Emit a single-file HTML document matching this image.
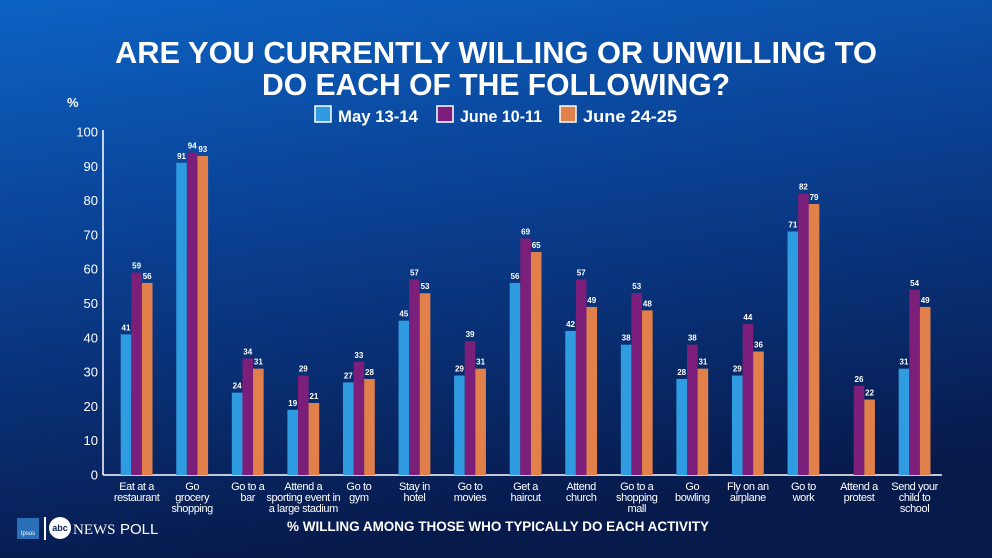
<!DOCTYPE html>
<html><head><meta charset="utf-8"><style>
html,body{margin:0;padding:0;width:992px;height:558px;overflow:hidden}
svg{display:block;font-family:"Liberation Sans",Arial,sans-serif}
</style></head><body>
<svg id="chart" width="992" height="558" viewBox="0 0 992 558" xmlns="http://www.w3.org/2000/svg">
<defs>
<linearGradient id="bg" x1="0" y1="0" x2="0.25" y2="1">
<stop offset="0" stop-color="#0c63c4"/><stop offset="0.45" stop-color="#0a3f91"/><stop offset="1" stop-color="#071a4c"/>
</linearGradient>
</defs>
<rect width="992" height="558" fill="url(#bg)"/>
<g fill="#fff" font-weight="bold" font-size="31" text-anchor="middle">
<text x="496" y="63" textLength="762" lengthAdjust="spacingAndGlyphs">ARE YOU CURRENTLY WILLING OR UNWILLING TO</text>
<text x="496" y="95" textLength="468" lengthAdjust="spacingAndGlyphs">DO EACH OF THE FOLLOWING?</text>
</g>
<g font-weight="bold" font-size="17" fill="#fff">
<g><rect x="315" y="106" width="16" height="16" fill="#2f9be0" stroke="#fff" stroke-width="1.5"/><text x="338" y="122" textLength="80" lengthAdjust="spacingAndGlyphs">May 13-14</text></g>
<g><rect x="437" y="106" width="16" height="16" fill="#7b1f7a" stroke="#fff" stroke-width="1.5"/><text x="460" y="122" textLength="82" lengthAdjust="spacingAndGlyphs">June 10-11</text></g>
<g><rect x="560" y="106" width="16" height="16" fill="#e2804c" stroke="#fff" stroke-width="1.5"/><text x="583" y="122" textLength="94" lengthAdjust="spacingAndGlyphs">June 24-25</text></g>
</g>
<text x="67" y="107" fill="#fff" font-weight="bold" font-size="13">%</text>
<g id="axes"></g>
<g id="bars"></g>
<g id="xlabels" font-size="11" fill="#fff" text-anchor="middle" letter-spacing="-0.4"></g>
<text x="498" y="531" fill="#fff" font-weight="bold" font-size="13.5" text-anchor="middle" textLength="422" lengthAdjust="spacingAndGlyphs">% WILLING AMONG THOSE WHO TYPICALLY DO EACH ACTIVITY</text>
<g>
<rect x="17" y="518" width="22" height="21" fill="#2a6fb8"/>
<text x="28" y="535" fill="#fff" font-size="6" text-anchor="middle">Ipsos</text>
<rect x="44" y="517" width="2" height="23" fill="#fff"/>
<circle cx="60" cy="528" r="11" fill="#fff"/>
<text x="60" y="531" fill="#0a1f55" font-size="9" font-weight="bold" text-anchor="middle">abc</text>
<text x="73" y="534" fill="#fff" font-size="15" font-family="Liberation Serif,serif">NEWS</text>
<text x="120" y="534" fill="#fff" font-size="15">POLL</text>
</g>
</svg>
<script>
const categories=[["Eat at a","restaurant"],["Go","grocery","shopping"],["Go to a","bar"],["Attend a","sporting event in","a large stadium"],["Go to","gym"],["Stay in","hotel"],["Go to","movies"],["Get a","haircut"],["Attend","church"],["Go to a","shopping","mall"],["Go","bowling"],["Fly on an","airplane"],["Go to","work"],["Attend a","protest"],["Send your","child to","school"]];
const may=[41,91,24,19,27,45,29,56,42,38,28,29,71,null,31];
const june10=[59,94,34,29,33,57,39,69,57,53,38,44,82,26,54];
const june24=[56,93,31,21,28,53,31,65,49,48,31,36,79,22,49];
const yTicks=[0,10,20,30,40,50,60,70,80,90,100];
const NS="http://www.w3.org/2000/svg";
const y0=475,y100=132,axX=103,axEnd=942,c0=136.6,step=55.57,bw=10.6;
const yS=v=>y0-(y0-y100)*v/100;
const xS=i=>c0+step*i;
function mk(t,a,p){const e=document.createElementNS(NS,t);for(const k in a)e.setAttribute(k,a[k]);p.appendChild(e);return e;}
const axes=document.getElementById('axes'),bars=document.getElementById('bars'),xl=document.getElementById('xlabels');
let yl=mk('line',{x1:axX,y1:y100-2,x2:axX,y2:y0,stroke:'#fff','stroke-width':1.5},axes);


let xa=mk('line',{x1:axX,y1:y0,x2:axEnd,y2:y0,stroke:'#fff','stroke-width':1.5},axes);


yTicks.forEach(v=>{const t=mk('text',{x:axX-5,y:yS(v)+4.5,fill:'#fff','font-size':13,'text-anchor':'end'},axes);t.textContent=v;

});
const series=[[may,'#2f9be0','may'],[june10,'#7b1f7a','june10'],[june24,'#e2804c','june24']];
categories.forEach((c,i)=>{
 series.forEach((s,j)=>{const v=s[0][i];if(v==null)return;
  const x=xS(i)+(j-1.5)*bw;
  const r=mk('rect',{x:x,y:yS(v),width:bw,height:y0-yS(v),fill:s[1]},bars);
  
  
  const t=mk('text',{x:x+bw/2,y:yS(v)-4,fill:'#fff','font-size':8,'font-weight':'bold','text-anchor':'middle'},bars);t.textContent=v;
  
  
 });
 const g=mk('text',{x:xS(i),y:0},xl);
 
 
 c.forEach((line,k)=>{const ts=mk('tspan',{x:xS(i),y:490+k*11},g);ts.textContent=line;});
});
</script>
</body></html>
